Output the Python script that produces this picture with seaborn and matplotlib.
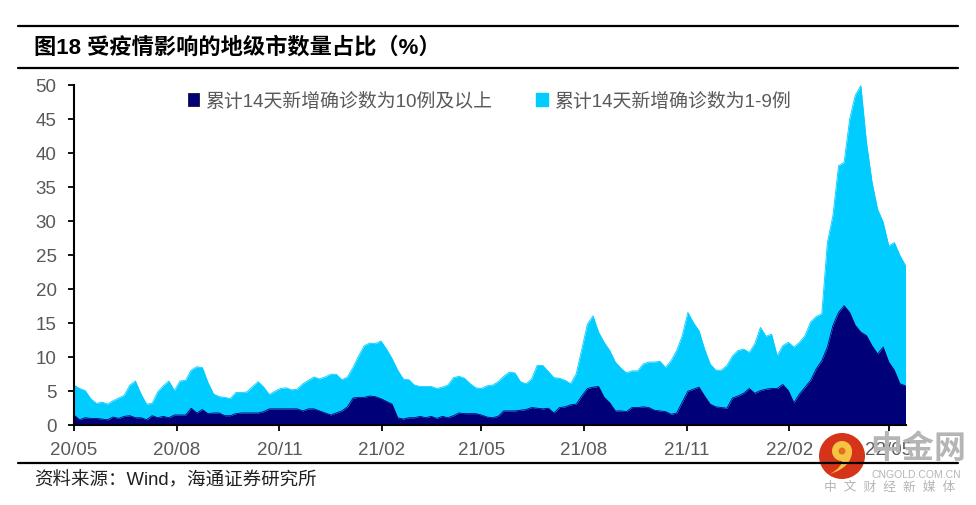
# Share of prefecture-level cities affected by the epidemic
import matplotlib
matplotlib.use('Agg')
import matplotlib.pyplot as plt
from matplotlib.lines import Line2D
from matplotlib.patches import Circle, Patch, PathPatch
from matplotlib.path import Path
import pandas as pd
import seaborn as sns

title = '图18 受疫情影响的地级市数量占比（%）'
source = '资料来源：Wind，海通证券研究所'
label_dark = '累计14天新增确诊数为10例及以上'
label_light = '累计14天新增确诊数为1-9例'

# values, one point every 5 days from 2020-05-01
total = [5.8, 5.3, 5.0, 3.8, 3.1, 3.3, 3.0, 3.5, 3.9, 4.3,
         5.8, 6.4, 4.5, 3.0, 3.1, 4.8, 5.7, 6.4, 5.0, 6.4,
         6.5, 8.0, 8.5, 8.4, 6.2, 4.5, 4.1, 4.0, 3.8, 4.7,
         4.7, 4.8, 5.6, 6.3, 5.5, 4.4, 4.9, 5.3, 5.4, 5.1,
         5.2, 6.0, 6.5, 7.0, 6.7, 7.0, 7.4, 7.4, 6.6, 7.0,
         8.4, 10.1, 11.6, 12.0, 11.9, 12.3, 11.1, 9.7, 8.0, 6.7,
         6.6, 5.8, 5.6, 5.6, 5.6, 5.3, 5.5, 5.8, 6.9, 7.1,
         6.8, 6.0, 5.4, 5.3, 5.7, 5.8, 6.3, 7.1, 7.7, 7.6,
         6.3, 6.0, 6.7, 8.7, 8.7, 7.8, 6.9, 6.8, 6.5, 6.0,
         7.5, 11.1, 14.8, 16.0, 13.6, 12.1, 10.9, 9.2, 8.3, 7.6,
         7.9, 7.9, 8.9, 9.2, 9.2, 9.3, 8.4, 9.4, 10.9, 13.1,
         16.5, 15.0, 13.8, 11.1, 8.9, 8.0, 8.0, 8.7, 10.1, 10.9,
         11.1, 10.6, 11.9, 14.3, 13.0, 13.3, 10.1, 11.6, 12.1, 11.4,
         12.1, 13.1, 15.1, 15.9, 16.3, 26.8, 30.8, 38.1, 38.6, 45.0,
         48.5, 49.9, 41.6, 35.7, 31.7, 29.8, 26.3, 26.8, 24.9, 23.4]
dark = [1.4, 0.7, 1.0, 0.9, 0.9, 0.8, 0.7, 1.1, 0.9, 1.2,
        1.3, 1.0, 1.0, 0.7, 1.3, 1.0, 1.2, 1.0, 1.4, 1.4,
        1.4, 2.4, 1.7, 2.2, 1.6, 1.7, 1.7, 1.3, 1.3, 1.6,
        1.7, 1.7, 1.7, 1.7, 1.9, 2.3, 2.3, 2.3, 2.3, 2.3,
        2.3, 2.0, 2.3, 2.3, 2.0, 1.7, 1.4, 1.7, 2.0, 2.6,
        3.9, 4.0, 4.0, 4.2, 4.1, 3.8, 3.4, 3.0, 1.0, 0.8,
        1.0, 1.0, 1.2, 1.0, 1.2, 0.9, 1.2, 1.0, 1.3, 1.7,
        1.6, 1.6, 1.6, 1.4, 1.1, 1.0, 1.2, 2.0, 2.0, 2.0,
        2.1, 2.2, 2.5, 2.4, 2.3, 2.4, 1.7, 2.5, 2.6, 2.9,
        3.0, 4.2, 5.3, 5.5, 5.6, 4.0, 3.2, 2.0, 2.0, 1.9,
        2.5, 2.5, 2.6, 2.5, 2.1, 2.0, 1.9, 1.5, 1.7, 3.3,
        4.9, 5.2, 5.5, 4.2, 3.0, 2.6, 2.5, 2.4, 3.9, 4.2,
        4.6, 5.3, 4.6, 5.0, 5.2, 5.3, 5.3, 5.9, 5.0, 3.2,
        4.5, 5.5, 6.5, 8.2, 9.4, 11.4, 14.6, 16.5, 17.5, 16.5,
        14.6, 13.6, 13.1, 11.6, 10.4, 11.4, 9.2, 8.0, 6.0, 5.7]
tick_dates = ['2020-05-01', '2020-08-01', '2020-11-01', '2021-02-01', '2021-05-01',
              '2021-08-01', '2021-11-01', '2022-02-01', '2022-05-01']
tick_labels = ['20/05', '20/08', '20/11', '21/02', '21/05', '21/08', '21/11', '22/02', '22/05']
y_ticks = [0, 5, 10, 15, 20, 25, 30, 35, 40, 45, 50]

W, H = 976, 506
COL_DARK = '#000078'
COL_LIGHT = '#00CCFF'
COL_TEXT = '#595959'

sns.set_style('white')
plt.rcParams['font.family'] = ['Liberation Sans', 'Noto Sans CJK SC', 'DejaVu Sans']

ds = pd.DataFrame({'date': pd.date_range('2020-05-01', periods=len(dark), freq='5D'),
                   'dark': dark, 'total': total})

fig = plt.figure(figsize=(W / 100, H / 100), dpi=100)
ax = fig.add_axes([74 / W, 1 - 425.5 / H, (905.5 - 74) / W, (425.5 - 86) / H])

# stacked areas: lines from seaborn, then filled below them
sns.lineplot(data=ds, x='date', y='total', ax=ax, color=COL_LIGHT, linewidth=0.6)
sns.lineplot(data=ds, x='date', y='dark', ax=ax, color=COL_DARK, linewidth=0.6)
ax.fill_between(ds['date'], ds['dark'], ds['total'], color=COL_LIGHT, linewidth=0)
ax.fill_between(ds['date'], 0, ds['dark'], color=COL_DARK, linewidth=0)

ax.set_xlim(ds['date'].iloc[0], ds['date'].iloc[-1])
ax.set_ylim(0, 50)
ax.set_xlabel('')
ax.set_ylabel('')
ax.set_xticks(pd.to_datetime(tick_dates))
ax.set_xticklabels(tick_labels)
ax.set_yticks(y_ticks)
ax.tick_params(axis='both', direction='out', length=4, width=1.3, color='black',
               labelsize=13.5, labelcolor=COL_TEXT, left=True, bottom=True)
ax.tick_params(axis='x', pad=8)
ax.tick_params(axis='y', pad=8.5)
sns.despine(ax=ax)
for side in ['left', 'bottom']:
    ax.spines[side].set_color('black')
    ax.spines[side].set_linewidth(1.5)

handles = [Patch(facecolor=COL_DARK, edgecolor='black', linewidth=0.5),
           Patch(facecolor=COL_LIGHT, edgecolor=COL_LIGHT)]
ax.legend(handles, [label_dark, label_light], ncol=2, frameon=False, fontsize=13.6,
          labelcolor=COL_TEXT, loc='upper left', bbox_to_anchor=(0.123, 1.012),
          handlelength=0.62, handleheight=0.7, handletextpad=0.3, columnspacing=2.35,
          borderaxespad=0.2)

# rules, title and source in pixel positions of the page
for y, lw in [(26.5, 1.6), (68.5, 1.6), (463.5, 1.6)]:
    fig.add_artist(Line2D([18 / W, 958 / W], [1 - y / H, 1 - y / H], color='black', linewidth=lw))
fig.text(34 / W, 1 - 48 / H, title, fontsize=16, fontweight='bold', color='black', va='center')
fig.text(34 / W, 1 - 481 / H, source, fontsize=13.3, color='#202020', va='center')

# watermark
logo = fig.add_axes([0, 0, 1, 1], facecolor='none')
logo.set_xlim(0, W)
logo.set_ylim(H, 0)
logo.axis('off')
logo.add_patch(Circle((842, 457), 23, facecolor='#D5341A', edgecolor='none'))
logo.add_patch(Circle((842, 452), 10, facecolor='#F6C445', edgecolor='none'))
tail = Path([(852, 452), (852, 468), (830, 475), (843, 468), (842, 460), (842, 460)],
            [Path.MOVETO, Path.CURVE3, Path.CURVE3, Path.CURVE3, Path.CURVE3, Path.CLOSEPOLY])
logo.add_patch(PathPatch(tail, facecolor='#F6C445', edgecolor='none'))
logo.add_patch(Circle((842, 452), 3.5, facecolor='#E2701F', edgecolor='none'))
logo.text(918, 450, '中金网', fontsize=23, fontweight='bold', color='#B5B5B5', ha='center', va='center')
logo.text(916, 475, 'CNGOLD.COM.CN', fontsize=7.5, color='#B5B5B5', ha='center', va='center')
logo.text(890, 488, '中  文  财  经  新  媒  体', fontsize=9.2, color='#B5B5B5', ha='center', va='center')

fig.savefig('out.png', dpi=100)
